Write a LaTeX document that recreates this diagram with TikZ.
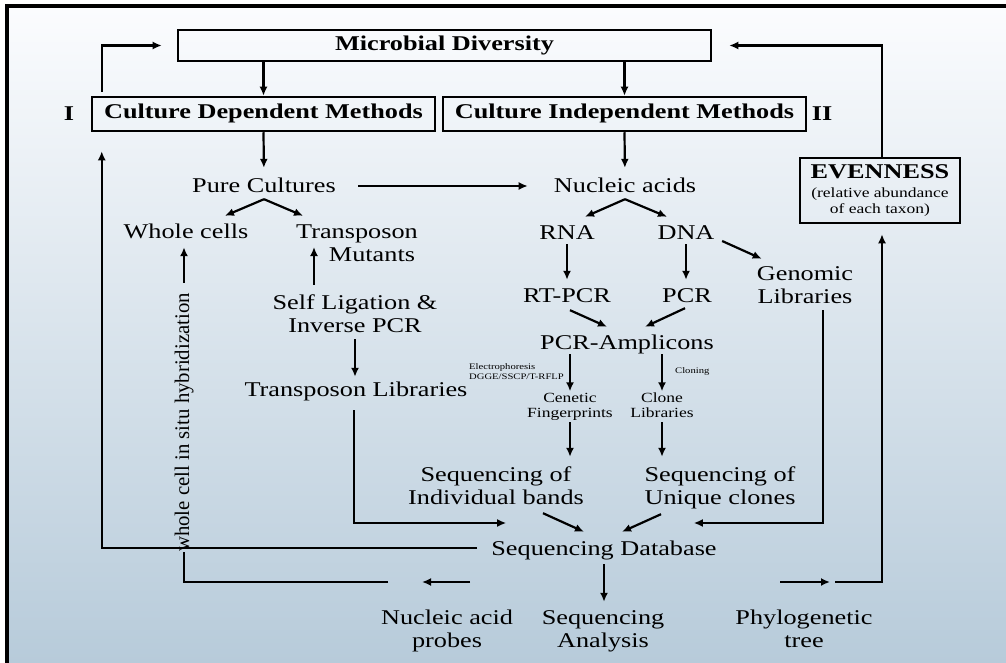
\documentclass[tikz,border=0pt]{standalone}
\usepackage{fontspec}
\setmainfont{Liberation Serif}
\newfontfamily\wf[FakeStretch=1.25]{Liberation Serif}
\usetikzlibrary{arrows.meta}
\definecolor{bgtop}{RGB}{251,252,254}
\definecolor{bgbot}{RGB}{183,203,218}
\newcommand\st{\rule[-5bp]{0pt}{20bp}}
\newcommand\sst{\rule[-3.5bp]{0pt}{14bp}}
\begin{document}
\begin{tikzpicture}[x=1bp,y=-1bp,
  t/.style={font=\wf\fontsize{21bp}{23bp}\selectfont, inner sep=0pt, text height=15bp, text depth=5bp},
  bt/.style={font=\wf\bfseries\fontsize{21bp}{23bp}\selectfont, inner sep=0pt, text height=15bp, text depth=5bp},
  tt/.style={font=\wf\fontsize{21bp}{23bp}\selectfont, inner sep=0pt, align=center},
  sm/.style={font=\wf\fontsize{14bp}{15bp}\selectfont, inner sep=0pt, align=center},
  tiny/.style={font=\wf\fontsize{8.5bp}{10bp}\selectfont, inner sep=0pt, align=left, anchor=west},
  rot/.style={font=\fontsize{20.8bp}{23bp}\selectfont, inner sep=0pt, rotate=90, text height=15bp, text depth=5bp},
  box/.style={draw, line width=2.5bp, inner sep=0pt, text height=15bp, text depth=5bp, font=\wf\bfseries\fontsize{21bp}{23bp}\selectfont},
  arr/.style={line width=2.2bp, -{Latex[length=9bp,width=8bp]}},
  ln/.style={line width=2.2bp}]
\useasboundingbox (0,0) rectangle (1006,663);
\fill[white] (0,0) rectangle (1006,663);
\shade[top color=bgtop,bottom color=bgbot] (9,8) rectangle (1006,663);
\draw[line width=4bp] (7,663) -- (7,6) -- (1006,6);

% boxes
\node[box, minimum width=533bp, minimum height=31bp] (md) at (444.5,45.5) {Microbial Diversity};
\node[box, minimum width=343bp, minimum height=34bp] (cdm) at (263.5,114) {Culture Dependent Methods};
\node[box, minimum width=363bp, minimum height=34bp] (cim) at (624.5,114) {Culture Independent Methods};
\node[draw, line width=2.5bp, inner sep=0pt, minimum width=160bp, minimum height=65bp, align=center, font=\wf\fontsize{14bp}{16bp}\selectfont] (even) at (880,190.5) {{\wf\bfseries\fontsize{21bp}{16bp}\selectfont EVENNESS}\\[3bp](relative abundance\\of each taxon)};
\node[bt] (lI) at (69,116) {I};
\node[bt] (lII) at (822,116) {II};

% text nodes
\node[t] (pc) at (264,188) {Pure Cultures};
\node[t] (na) at (625,188) {Nucleic acids};
\node[t] (wc) at (186,233) {Whole cells};
\node[tt] (tm) at (357,244.5) {Transposon\st\\\hspace*{30bp}Mutants\st};
\node[tt] (sl) at (355,315.5) {Self Ligation \&\st\\Inverse PCR\st};
\node[t] (tl) at (356,391) {Transposon Libraries};
\node[t] (rna) at (567,234) {RNA};
\node[t] (dna) at (686,234) {DNA};
\node[tt] (gl) at (805,286.5) {Genomic\st\\Libraries\st};
\node[t] (rtpcr) at (567,297) {RT-PCR};
\node[t] (pcr) at (687,297) {PCR};
\node[t] (amp) at (627,344) {PCR-Amplicons};
\node[sm] (cf) at (570,406) {Cenetic\sst\\Fingerprints\sst};
\node[sm] (cl) at (662,406) {Clone\sst\\Libraries\sst};
\node[tiny] (elec) at (469,371.5) {Electrophoresis\\DGGE/SSCP/T-RFLP};
\node[tiny] (clon) at (675,371) {Cloning};
\node[tt] (sib) at (496,487.5) {Sequencing of\st\\Individual bands\st};
\node[tt] (suc) at (720,487.5) {Sequencing of\st\\Unique clones\st};
\node[t] (sdb) at (604,550) {Sequencing Database};
\node[tt] (nap) at (447,630.5) {Nucleic acid\st\\probes\st};
\node[tt] (sa) at (603,630.5) {Sequencing\st\\Analysis\st};
\node[tt] (pt) at (804,630.5) {Phylogenetic\st\\tree\st};
\node[rot] (wish) at (184,422.5) {whole cell in situ hybridization};

% connectors
\draw[arr] (cdm.north |- md.south) -- (cdm.north);
\draw[arr] (cim.north |- md.south) -- (cim.north);
\draw[arr, shorten >=10bp] (cdm.south) -- (pc.north);
\draw[arr, shorten >=10bp] (cim.south) -- (na.north);
\draw[arr, shorten <=22bp, shorten >=26bp] ([shift={(0,-2)}]pc.east) -- ([shift={(0,-2)}]na.west);
\draw[arr] ([shift={(0,1)}]pc.south) -- ([shift={(39,-7)}]wc.north);
\draw[arr] ([shift={(0,1)}]pc.south) -- ([shift={(-54,-7)}]tm.north);
\draw[arr] ([shift={(0,1)}]na.south) -- ([shift={(18,-7)}]rna.north);
\draw[arr] ([shift={(0,1)}]na.south) -- ([shift={(-19,-7)}]dna.north);
\draw[arr, shorten <=10bp, shorten >=4bp] (wish.east) -- (wish.east |- wc.south);
\draw[arr] ([shift={(-41,-9)}]sl.north) -- ([shift={(-43,2.5)}]tm.center);
\draw[arr, shorten <=2bp, shorten >=4bp] (sl.south) -- (sl.south |- tl.north);
\draw[arr] ([shift={(-2,9)}]tl.south) |- ([shift={(15,-27)}]sdb.west);
\draw[arr] ([shift={(18,2)}]gl.south) |- ([shift={(-23,-27)}]sdb.east);
\draw[arr] ([shift={(47,4)}]sib.south) -- ([shift={(-20,-8)}]sdb.north);
\draw[arr] ([shift={(-59,5)}]suc.south) -- ([shift={(18,-8)}]sdb.north);
\draw[arr] ([shift={(-14,-2)}]sdb.west) -| ([shift={(11,19)}]cdm.south west);
\draw[arr, shorten <=4bp, shorten >=7bp] (sdb.south) -- (sdb.south |- sa.north);
\draw[arr, shorten >=7bp] (rna.south) -- (rtpcr.north);
\draw[arr, shorten >=7bp] (dna.south) -- (dna.south |- pcr.north);
\draw[arr] ([shift={(7.5,7)}]dna.east) -- ([shift={(5,-6)}]gl.north west);
\draw[arr] ([shift={(3,3)}]rtpcr.south) -- ([shift={(-20,-7)}]amp.north);
\draw[arr] ([shift={(-2,1)}]pcr.south) -- ([shift={(18,-7)}]amp.north);
\draw[arr] (amp.south -| cf.north) -- (cf.north);
\draw[arr] (amp.south -| cl.north) -- (cl.north);
\draw[arr, shorten <=1.5bp, shorten >=9bp] (cf.south) -- (cf.south |- sib.north);
\draw[arr, shorten <=1.5bp, shorten >=9bp] (cl.south) -- (cl.south |- suc.north);
\draw[arr] ([shift={(11,-4)}]cdm.north west) |- ([shift={(-15,0)}]md.west);
\draw[arr] ([shift={(2,0)}]even.north) |- ([shift={(17,0)}]md.east);
\coordinate (la1) at (470,582);
\coordinate (la2) at (422,582);
\draw[arr] (la1) -- (la2);
\coordinate (bl) at (388,582);
\draw[ln] (bl) -| (wish.west);
\coordinate (ra1) at (780,582);
\coordinate (ra2) at (830,582);
\draw[arr] (ra1) -- (ra2);
\coordinate (rl) at (835,582);
\draw[arr] (rl) -| ([shift={(2,10)}]even.south);
\end{tikzpicture}
\end{document}
